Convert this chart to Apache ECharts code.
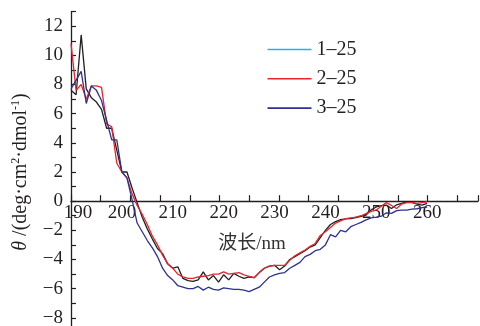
<!DOCTYPE html>
<html>
<head>
<meta charset="utf-8">
<script src="https://cdn.jsdelivr.net/npm/echarts@6/dist/echarts.min.js"></script>
<style>
html,body{margin:0;padding:0;background:#fff;}
#chart{width:480px;height:326px;}
</style>
</head>
<body>
<div id="chart"></div>
<script>
const wavelengths = [190,191,192,193,194,195,196,197,198,199,200,201,202,203,204,205,206,207,208,209,210,211,212,213,214,215,216,217,218,219,220,221,222,223,224,225,226,227,228,229,230,231,232,233,234,235,236,237,238,239,240,241,242,243,244,245,246,247,248,249,250,251,252,253,254,255,256,257,258,259,260];
const seriesNames = ['1–25', '2–25', '3–25'];
const s1 = [7.6,7.3,11.4,7.7,7.1,6.8,6.3,5.0,5.0,3.5, 2.0,2.0,0.9,-0.1,-1.1,-1.9,-2.6,-3.25,-3.6,-4.3, -4.6,-4.5,-5.3,-5.45,-5.5,-5.4,-4.85,-5.4,-5.1,-5.55, -5.05,-5.4,-4.95,-5.15,-5.3,-5.2,-5.25,-4.9,-4.6,-4.45, -4.4,-4.7,-4.45,-4.0,-3.8,-3.6,-3.4,-3.15,-3.0,-2.5, -2.0,-1.6,-1.4,-1.27,-1.22,-1.19,-1.12,-1.05,-0.96,-0.6, -0.4,-0.3,-0.27,-0.5,-0.25,-0.15,-0.05,-0.08,-0.2,-0.27, -0.15];
const s2 = [10.8,7.6,8.0,7.0,7.9,7.9,7.8,5.3,5.1,2.6, 2.0,1.6,0.5,-0.3,-0.9,-1.6,-2.4,-3.0,-3.7,-4.3, -4.6,-5.0,-5.2,-5.3,-5.3,-5.2,-5.15,-5.1,-5.0,-5.0, -4.85,-5.0,-4.95,-4.9,-5.05,-5.15,-5.25,-4.9,-4.6,-4.45, -4.4,-4.4,-4.4,-4.05,-3.75,-3.55,-3.35,-3.1,-2.9,-2.35, -2.1,-1.8,-1.5,-1.35,-1.2,-1.15,-1.1,-1.0,-0.85,-0.7, -0.6,-0.35,-0.1,-0.3,-0.5,-0.2,-0.1,-0.1,-0.15,-0.1, -0.05];
const s3 = [7.7,8.3,8.9,6.7,7.9,7.6,6.9,5.55,4.2,4.2, 2.0,1.6,0.1,-1.5,-2.1,-2.7,-3.2,-3.8,-4.6,-5.1, -5.4,-5.8,-5.9,-6.0,-6.0,-5.85,-6.1,-5.9,-6.05,-6.1, -5.95,-6.0,-6.05,-6.05,-6.1,-6.2,-6.05,-5.9,-5.55,-5.2, -5.05,-4.95,-4.9,-4.6,-4.4,-4.2,-3.8,-3.65,-3.4,-3.3, -3.0,-2.3,-2.45,-2.0,-2.1,-1.75,-1.6,-1.45,-1.28,-1.15, -1.1,-1.03,-0.8,-0.84,-0.65,-0.62,-0.62,-0.55,-0.52,-0.45, -0.4];
const xTickLabels = ['190','200','210','220','230','240','250','260'];
const yTickLabels = ['−8','−6','−4','−2','0','2','4','6','8','10','12'];

const lineColors = ['#231f20', '#e8242e', '#2e3192'];
const legendColors = ['#1fb5ea', '#e8242e', '#2e3192'];
const serif = '"Liberation Serif","Times New Roman",serif';
const axisColor = '#231f20';

function pairs(vals){ return wavelengths.map((w,i)=>[w, vals[i]]); }
const allSeries = [s1, s2, s3];

// grid geometry: y from -9 (below canvas) to 13
const gridTop = 11.6, gridBottom = -6.4, yMin = -9, yMax = 13;
const plotH = 326 - gridTop - gridBottom;
const zeroOffset = -(plotH * (0 - yMin) / (yMax - yMin)); // move bottom axis up to y=0

const chart = echarts.init(document.getElementById('chart'), null, {renderer:'canvas'});
const option = {
  animation: false,
  backgroundColor: '#fff',
  grid: { left: 71, right: 2, top: gridTop, bottom: gridBottom, containLabel: false, outerBoundsMode: 'none' },
  legend: {
    orient: 'vertical',
    left: 262.5, top: 34.5,
    icon: 'rect',
    itemWidth: 44, itemHeight: 1.6, itemGap: 9.3,
    textStyle: { fontFamily: serif, fontSize: 20, color: '#231f20' },
    data: seriesNames.map((n,i)=>({ name: n, itemStyle: {color: legendColors[i]} }))
  },
  xAxis: [
    {
      type: 'value', min: 190, max: 270, interval: 10, position: 'bottom', offset: zeroOffset,
      axisLine: { onZero: false, lineStyle: { color: axisColor, width: 1.3 } },
      axisTick: { show: false },
      splitLine: { show: false },
      axisLabel: {
        margin: 2, fontFamily: serif, fontSize: 19, color: '#231f20',
        formatter: function(v){
          const s = String(v);
          if (xTickLabels.indexOf(s) < 0) return '';
          if (s === xTickLabels[0]) return '{f|' + s + '}';
          return s;
        },
        rich: { f: { fontFamily: serif, fontSize: 19, color: '#231f20', padding: [0,0,0,14] } }
      }
    },
    {
      type: 'value', min: 0, max: 13.70, interval: 1, position: 'bottom', offset: zeroOffset,
      axisLine: { show: false, onZero: false },
      axisTick: { show: true, inside: true, length: 6, lineStyle: { color: axisColor, width: 1.2 } },
      axisLabel: { show: false },
      splitLine: { show: false }
    }
  ],
  yAxis: {
    type: 'value', min: yMin, max: yMax, interval: 1,
    axisLine: { show: true, onZero: false, lineStyle: { color: axisColor, width: 1.3 } },
    axisTick: { show: true, inside: true, length: 5, lineStyle: { color: axisColor, width: 1.2 } },
    splitLine: { show: false },
    axisLabel: {
      margin: 8, fontFamily: serif, fontSize: 19, color: '#231f20',
      formatter: function(v){
        const s = v < 0 ? '−' + (-v) : String(v);
        return yTickLabels.indexOf(s) >= 0 ? s : '';
      }
    },
    name: '{i|θ} /(deg·cm{s|2}·dmol{s|-1})',
    nameLocation: 'middle', nameRotate: 90, nameGap: 29,
    nameTextStyle: {
      fontFamily: serif, fontSize: 20, color: '#231f20', lineHeight: 22,
      rich: {
        i: { fontFamily: serif, fontSize: 20, fontStyle: 'italic', color: '#231f20', lineHeight: 22 },
        s: { fontFamily: serif, fontSize: 12, color: '#231f20', verticalAlign: 'top', lineHeight: 13 }
      }
    }
  },
  graphic: [{
    type: 'text', x: 252, y: 244,
    style: { text: '波长/nm', fontFamily: '"Liberation Serif","Noto Sans CJK SC",serif', fontSize: 19, fill: '#333', align: 'center', verticalAlign: 'middle' }
  }],
  series: seriesNames.map((n,i)=>({
    name: n, type: 'line', xAxisIndex: 0, yAxisIndex: 0,
    data: pairs(allSeries[i]),
    symbol: 'none', smooth: false,
    lineStyle: { color: lineColors[i], width: 1.3 },
    itemStyle: { color: lineColors[i] }
  }))
};
chart.setOption(option);
</script>
</body>
</html>
